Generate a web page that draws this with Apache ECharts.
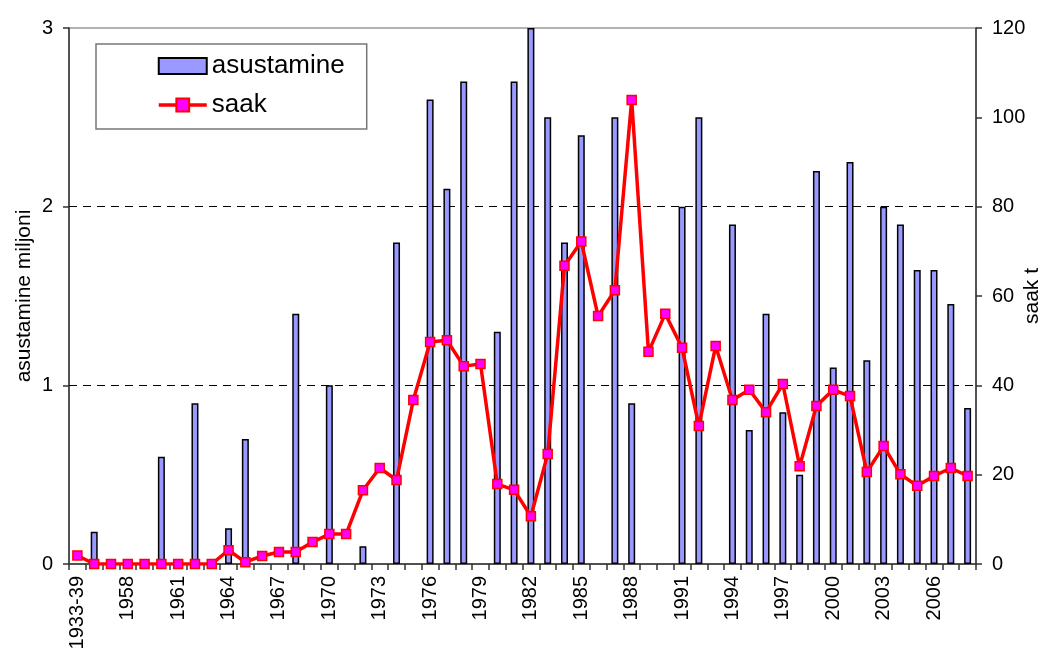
<!DOCTYPE html>
<html>
<head>
<meta charset="utf-8">
<script src="https://cdn.jsdelivr.net/npm/echarts@6/dist/echarts.min.js"></script>
<style>html,body{margin:0;padding:0;background:#fff}#c{width:1048px;height:657px}</style>
</head>
<body>
<div id="c"></div>
<script>
const categories = ['1933-39','1956','1957','1958','1959','1960','1961','1962','1963','1964','1965','1966','1967','1968','1969','1970','1971','1972','1973','1974','1975','1976','1977','1978','1979','1980','1981','1982','1983','1984','1985','1986','1987','1988','1989','1990','1991','1992','1993','1994','1995','1996','1997','1998','1999','2000','2001','2002','2003','2004','2005','2006','2007','2008'];
const asustamine = [null,0.18,null,null,null,0.6,null,0.9,null,0.2,0.7,null,null,1.4,null,1.0,null,0.1,null,1.8,null,2.6,2.1,2.7,null,1.3,2.7,3.0,2.5,1.8,2.4,null,2.5,0.9,null,null,2.0,2.5,null,1.9,0.75,1.4,0.85,0.5,2.2,1.1,2.25,1.14,2.0,1.9,1.645,1.645,1.455,0.873];
const saak = [1.9,0,0,0,0,0,0,0,0,3.1,0.4,1.8,2.7,2.7,4.9,6.7,6.7,16.5,21.5,18.8,36.7,49.7,50.1,44.3,44.8,17.9,16.6,10.7,24.6,66.8,72.2,55.5,61.3,103.9,47.5,56.0,48.4,30.9,48.8,36.7,39.0,34.0,40.3,21.9,35.4,39.0,37.6,20.6,26.4,20.1,17.5,19.7,21.5,19.7];
const leftGridLines = [1, 2];

const font = 'Liberation Sans, Arial, sans-serif';
const chart = echarts.init(document.getElementById('c'));
chart.setOption({
  animation: false,
  grid: {left: 69, right: 72, top: 28, bottom: 93, outerBoundsMode: 'none', containLabel: false, show: true, borderColor: '#999', borderWidth: 1.5, backgroundColor: 'transparent'},
  legend: {
    orient: 'vertical', left: 96, top: 44,
    padding: [9, 22, 11, 61], itemGap: 13,
    itemWidth: 48, itemHeight: 16,
    borderColor: '#777', borderWidth: 1.5, borderRadius: 0,
    textStyle: {fontFamily: font, fontSize: 26, color: '#000'},
    data: [
      {name: 'asustamine', icon: 'rect', itemStyle: {borderWidth: 2}},
      {name: 'saak', lineStyle: {width: 3.5}}
    ]
  },
  xAxis: {
    type: 'category', data: categories, boundaryGap: true,
    axisLine: {lineStyle: {color: '#333', width: 1.5}},
    axisTick: {show: true, interval: 0, length: 6, lineStyle: {color: '#333', width: 1.5}},
    axisLabel: {interval: 2, rotate: 90, margin: 12, fontFamily: font, fontSize: 20, color: '#000'},
    splitLine: {show: false}
  },
  yAxis: [
    {
      type: 'value', min: 0, max: 3, interval: 1, position: 'left',
      name: 'asustamine miljoni', nameLocation: 'middle', nameRotate: 90, nameGap: 34, nameMoveOverlap: false,
      nameTextStyle: {fontFamily: font, fontSize: 21, color: '#000'},
      axisLine: {show: true, lineStyle: {color: '#333', width: 1.5}},
      axisTick: {show: true, length: 6, lineStyle: {color: '#333', width: 1.5}},
      axisLabel: {margin: 16, fontFamily: font, fontSize: 20, color: '#000'},
      splitLine: {show: false}
    },
    {
      type: 'value', min: 0, max: 120, interval: 20, position: 'right',
      name: 'saak t', nameLocation: 'middle', nameRotate: 90, nameGap: 46, nameMoveOverlap: false,
      nameTextStyle: {fontFamily: font, fontSize: 21, color: '#000'},
      axisLine: {show: true, lineStyle: {color: '#333', width: 1.5}},
      axisTick: {show: true, length: 6, lineStyle: {color: '#333', width: 1.5}},
      axisLabel: {margin: 16, fontFamily: font, fontSize: 20, color: '#000'},
      splitLine: {show: false}
    }
  ],
  series: [
    {
      name: 'asustamine', type: 'bar', yAxisIndex: 0, data: asustamine,
      barWidth: 7,
      itemStyle: {color: '#9999FF', borderColor: '#000', borderWidth: 1.5},
      markLine: {
        silent: true, symbol: 'none', label: {show: false},
        lineStyle: {color: '#000', type: [8, 6], width: 1},
        data: leftGridLines.map(v => ({yAxis: v})),
        z: 1
      },
      z: 2
    },
    {
      name: 'saak', type: 'line', yAxisIndex: 1, data: saak,
      lineStyle: {color: '#FF0000', width: 3.5},
      itemStyle: {color: '#FF00FF', borderColor: '#FF0000', borderWidth: 1.5},
      symbol: 'rect', symbolSize: 9, showAllSymbol: true,
      z: 5
    }
  ]
});
</script>
</body>
</html>
